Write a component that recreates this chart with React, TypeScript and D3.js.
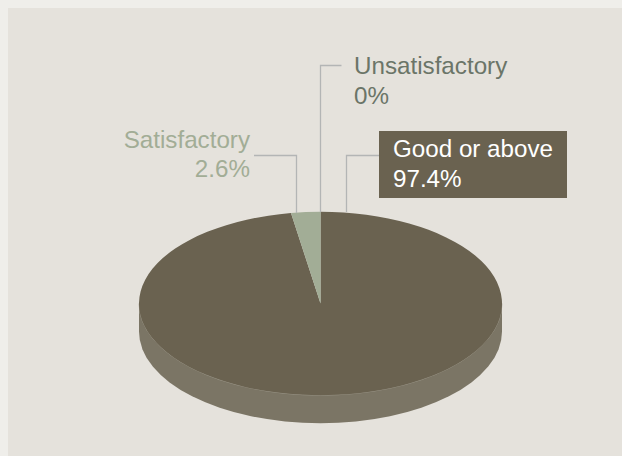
import React from "react";
import * as d3 from "d3";

// Share of ratings, clockwise from twelve o'clock.
const categories = ["Good or above", "Unsatisfactory", "Satisfactory"];
const shares = [97.4, 0, 2.6];
const shareLabels = ["97.4%", "0%", "2.6%"];
const sliceColors = ["#6a6250", "#6a6250", "#a2ad96"];

const WIDTH = 622;
const HEIGHT = 456;
const CX = 320.5;
const CY = 303.5;
const RX = 181.5;
const TILT = 0.505;
const DEPTH = 28;
const FONT = "'Liberation Sans', Arial, sans-serif";

export default function App() {
  const pie = d3
    .pie<number>()
    .sort(null)
    .startAngle(0)
    .endAngle(2 * Math.PI);
  const slices = pie(shares);
  const arc = d3.arc<d3.PieArcDatum<number>>().innerRadius(0).outerRadius(RX);

  const ry = RX * TILT;
  // Rim of the disc: the lower half of the ellipse, extruded downwards.
  const rimPath =
    `M${CX - RX},${CY}L${CX - RX},${CY + DEPTH}` +
    `A${RX},${ry} 0 0 0 ${CX + RX},${CY + DEPTH}` +
    `L${CX + RX},${CY}Z`;
  const rimEdge = `M${CX - RX},${CY}A${RX},${ry} 0 0 0 ${CX + RX},${CY}`;

  const textProps = { fontFamily: FONT, fontSize: 24.2 };

  return (
    <svg
      width={WIDTH}
      height={HEIGHT}
      style={{ position: "absolute", left: 0, top: 0, display: "block" }}
    >
      <rect width={WIDTH} height={HEIGHT} fill="#efeeea" />
      <rect x={8} y={8} width={WIDTH - 8} height={HEIGHT - 8} fill="#e5e2dc" />

      <path d={rimPath} fill="#7b7565" />
      <path d={rimEdge} fill="none" stroke="#a8a497" strokeWidth={0.7} />
      <g transform={`translate(${CX},${CY}) scale(1,${TILT})`}>
        {slices.map((s, i) => (
          <path key={categories[i]} d={arc(s) ?? ""} fill={sliceColors[i]} />
        ))}
      </g>

      <g fill="none" stroke="#b3b5b5" strokeWidth={1.3}>
        <path d="M320.5,212V65.5H341.5" />
        <path d="M296.5,213V155.5H254" />
        <path d="M346.5,212V155.5H379" />
      </g>

      <text {...textProps} fill="#6b7568" x={354} y={74}>
        {categories[1]}
      </text>
      <text {...textProps} fill="#6b7568" x={354} y={104}>
        {shareLabels[1]}
      </text>

      <text {...textProps} fill="#a2ad96" x={250} y={148} textAnchor="end">
        {categories[2]}
      </text>
      <text {...textProps} fill="#a2ad96" x={250} y={177} textAnchor="end">
        {shareLabels[2]}
      </text>

      <rect x={379} y={131} width={188} height={67} fill="#6a6250" />
      <text {...textProps} fill="#ffffff" x={393} y={157}>
        {categories[0]}
      </text>
      <text {...textProps} fill="#ffffff" x={393} y={187}>
        {shareLabels[0]}
      </text>
    </svg>
  );
}
